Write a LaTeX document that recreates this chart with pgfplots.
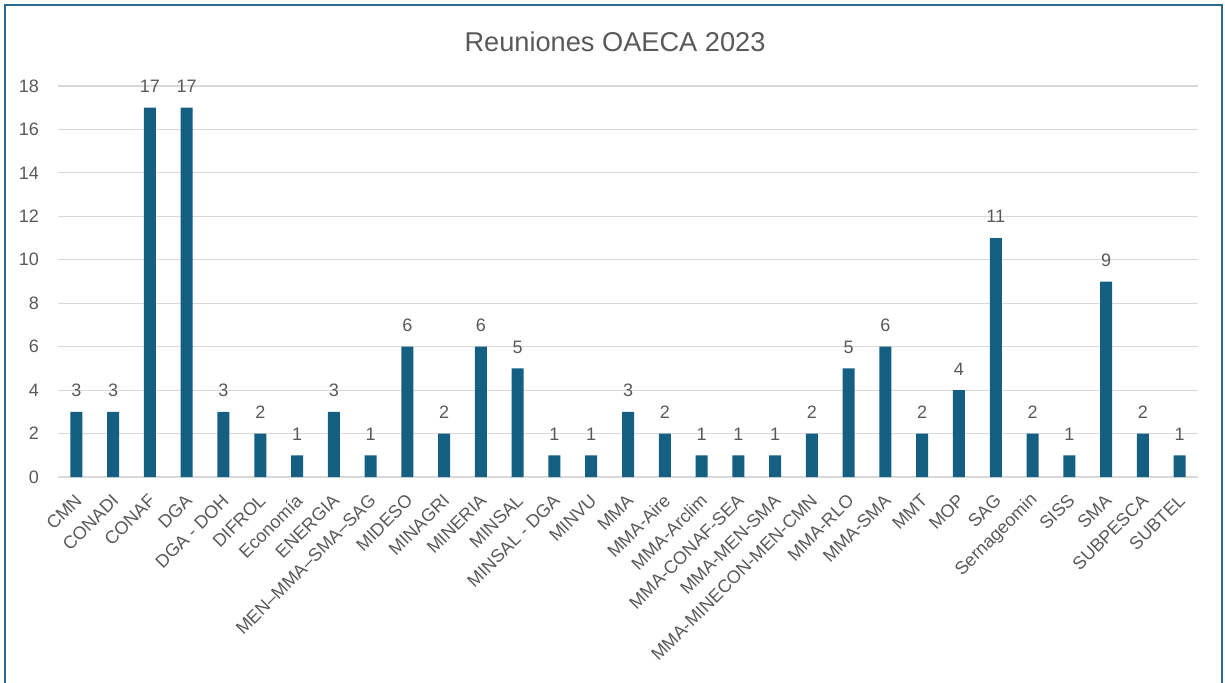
\documentclass[border=0pt]{standalone}
\usepackage{pgfplots}
\pgfplotsset{compat=1.18}
\usepackage{fontspec}
\setmainfont{Liberation Sans}
\definecolor{barblue}{HTML}{156082}
\definecolor{txtgray}{HTML}{595959}
\definecolor{gridgray}{HTML}{D9D9D9}
\definecolor{framecol}{HTML}{2A6A8E}
\begin{document}
\begin{tikzpicture}
\path[use as bounding box] (0,0) rectangle (612.5pt,-341.5pt);
\draw[framecol, line width=1pt] (2.4pt,-341.5pt) -- (2.4pt,-2.4pt) -- (611pt,-2.4pt) -- (611pt,-341.5pt);
\node[txtgray, font=\fontsize{13.6}{15}\selectfont] at (307.5pt,-21pt) {Reuniones OAECA 2023};
\begin{axis}[
    at={(29pt,-238.5pt)}, anchor=south west,
    width=570pt, height=195.5pt,
    scale only axis,
    ybar, bar width=6pt,
    xmin=-0.5, xmax=30.5,
    ymin=0, ymax=18,
    ytick={0,2,...,18},
    xtick=data,
    xticklabels={CMN, CONADI, CONAF, DGA, DGA - DOH, DIFROL, Economía, ENERGIA, MEN–MMA–SMA–SAG, MIDESO, MINAGRI, MINERIA, MINSAL, MINSAL - DGA, MINVU, MMA, MMA-Aire, MMA-Arclim, MMA-CONAF-SEA, MMA-MEN-SMA, MMA-MINECON-MEN-CMN, MMA-RLO, MMA-SMA, MMT, MOP, SAG, Sernageomin, SISS, SMA, SUBPESCA, SUBTEL},
    xticklabel style={rotate=45, anchor=east, font=\fontsize{9}{10}\selectfont, text=txtgray, xshift=-3pt, yshift=-8pt},
    yticklabel style={font=\fontsize{9}{10}\selectfont, text=txtgray, xshift=-6pt},
    /pgf/number format/assume math mode=true,
    major tick length=0pt,
    ymajorgrids, grid style={gridgray, line width=0.6pt},
    axis x line*=bottom,
    axis y line*=left,
    x axis line style={gridgray, line width=0.6pt, -},
    y axis line style={draw=none},
    nodes near coords,
    every node near coord/.append style={font=\fontsize{9}{10}\selectfont, text=txtgray, yshift=4pt},
]
\addplot[fill=barblue, draw=none] coordinates {
(0,3) (1,3) (2,17) (3,17) (4,3) (5,2) (6,1) (7,3) (8,1) (9,6)
(10,2) (11,6) (12,5) (13,1) (14,1) (15,3) (16,2) (17,1) (18,1) (19,1)
(20,2) (21,5) (22,6) (23,2) (24,4) (25,11) (26,2) (27,1) (28,9) (29,2) (30,1)
};
\end{axis}
\end{tikzpicture}
\end{document}
